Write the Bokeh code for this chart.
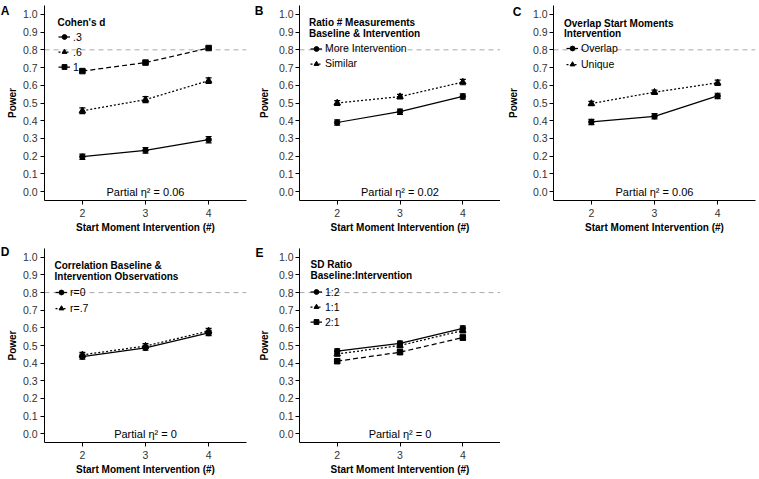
from bokeh.plotting import figure
from bokeh.models import (ColumnDataSource, Whisker, TeeHead, Span, Label, LinearAxis,
                          Legend, LegendItem, FixedTicker, NumeralTickFormatter, Range1d,
                          CustomJSTickFormatter)
from bokeh.layouts import row, column
from bokeh.embed import file_html
from bokeh.resources import INLINE

FONT = "Liberation Sans"

# ---------------- data ----------------
start_moments = [2, 3, 4]
y_ticks = [0.0, 0.1, 0.2, 0.3, 0.4, 0.5, 0.6, 0.7, 0.8, 0.9, 1.0]
power_target = 0.8
x_title = "Start Moment Intervention (#)"
y_title = "Power"

a_title = ["Cohen's d"]
a_labels = [".3", ".6", "1"]
a_power = [[0.197, 0.233, 0.293], [0.456, 0.519, 0.626], [0.680, 0.728, 0.810]]
a_err = [[0.015, 0.016, 0.018], [0.016, 0.017, 0.016], [0.008, 0.006, 0.006]]
a_eta = "Partial \u03b7\u00b2 = 0.06"

b_title = ["Ratio # Measurements", "Baseline & Intervention"]
b_labels = ["More Intervention", "Similar"]
b_power = [[0.390, 0.451, 0.537], [0.500, 0.536, 0.618]]
b_err = [[0.015, 0.015, 0.015], [0.013, 0.013, 0.015]]
b_eta = "Partial \u03b7\u00b2 = 0.02"

c_title = ["Overlap Start Moments", "Intervention"]
c_labels = ["Overlap", "Unique"]
c_power = [[0.393, 0.425, 0.540], [0.497, 0.561, 0.614]]
c_err = [[0.015, 0.015, 0.015], [0.012, 0.012, 0.015]]
c_eta = "Partial \u03b7\u00b2 = 0.06"

d_title = ["Correlation Baseline &", "Intervention Observations"]
d_labels = ["r=0", "r=.7"]
d_power = [[0.437, 0.487, 0.571], [0.447, 0.497, 0.582]]
d_err = [[0.014, 0.014, 0.015], [0.014, 0.014, 0.015]]
d_eta = "Partial \u03b7\u00b2 = 0"

e_title = ["SD Ratio", "Baseline:Intervention"]
e_labels = ["1:2", "1:1", "2:1"]
e_power = [[0.468, 0.512, 0.597], [0.452, 0.500, 0.585], [0.411, 0.462, 0.545]]
e_err = [[0.013, 0.013, 0.014], [0.013, 0.013, 0.014], [0.013, 0.013, 0.014]]
e_eta = "Partial \u03b7\u00b2 = 0"

# ---------------- styles / layout ----------------
SERIES_STYLE = [("solid", "circle", 5.5), ("2 2", "triangle", 6.5), ("5 3", "square", 5.5)]
Y0, Y1 = -0.05, 1.05

COLS = [
    dict(width=250, left=44, right=4, ytick_standoff=3, letter_standoff=10, ylab_standoff=-20),
    dict(width=250, left=49, right=0, ytick_standoff=2, letter_standoff=12, ylab_standoff=-18),
    dict(width=259, left=53, right=4, ytick_standoff=2, letter_standoff=8, ylab_standoff=-9),
]
ROWS = [
    dict(height=240, top=5, bottom=40),
    dict(height=239, top=8, bottom=37),
]


def make_panel(letter, letter_pos, title_lines, labels, powers, errs, eta, ci, ri, lg):
    c = COLS[ci]
    r = ROWS[ri]
    p = figure(width=c["width"], height=r["height"], output_backend="svg",
               toolbar_location=None, tools="",
               x_range=Range1d(1.4, 4.6), y_range=Range1d(Y0, Y1),
               min_border_left=c["left"], min_border_right=c["right"],
               min_border_top=r["top"], min_border_bottom=r["bottom"])
    p.outline_line_color = None
    p.background_fill_color = "white"
    p.border_fill_color = "white"
    p.xgrid.visible = False
    p.ygrid.visible = False

    for ax in (p.xaxis[0], p.yaxis[0]):
        ax.axis_line_color = "black"
        ax.axis_line_width = 1
        ax.major_tick_line_color = "black"
        ax.minor_tick_line_color = None
        ax.major_tick_in = 0
        ax.major_tick_out = 4
        ax.major_label_text_font = FONT
        ax.major_label_text_font_size = "10.5px"
        ax.major_label_text_color = "#333333"
        ax.axis_label_text_font = FONT
        ax.axis_label_text_font_size = "10px"
        ax.axis_label_text_font_style = "bold"
        ax.axis_label_text_color = "black"

    xa = p.xaxis[0]
    xa.ticker = FixedTicker(ticks=start_moments)
    xa.axis_label = x_title
    xa.major_label_standoff = 4
    xa.axis_label_standoff = 2

    ya = p.yaxis[0]
    ya.ticker = FixedTicker(ticks=y_ticks)
    ya.formatter = NumeralTickFormatter(format="0.0")
    ya.axis_label = None
    ya.major_label_standoff = c["ytick_standoff"]

    # outer left axis: carries the panel letter (as its single tick label) and the "Power" title
    la = LinearAxis(ticker=FixedTicker(ticks=[letter_pos], minor_ticks=[]),
                    formatter=CustomJSTickFormatter(args=dict(t=letter), code="return t"),
                    axis_line_color=None, major_tick_line_color=None, minor_tick_line_color=None,
                    major_tick_in=0, major_tick_out=0,
                    major_label_standoff=c["letter_standoff"],
                    major_label_text_font=FONT, major_label_text_font_size="12px",
                    major_label_text_font_style="bold", major_label_text_color="black",
                    axis_label=y_title, axis_label_standoff=c["ylab_standoff"],
                    axis_label_text_font=FONT, axis_label_text_font_size="10px",
                    axis_label_text_font_style="bold", axis_label_text_color="black")
    p.add_layout(la, "left")

    p.add_layout(Span(location=power_target, dimension="width", line_color="#AAAAAA",
                      line_dash="5 4", line_width=1, level="underlay"))

    items = []
    for k, (lab, vals, err) in enumerate(zip(labels, powers, errs)):
        dash, marker, size = SERIES_STYLE[k]
        src = ColumnDataSource(dict(x=start_moments, y=vals,
                                    lo=[v - e for v, e in zip(vals, err)],
                                    hi=[v + e for v, e in zip(vals, err)]))
        ln = p.line("x", "y", source=src, line_color="black", line_width=1.25, line_dash=dash)
        sc = p.scatter("x", "y", source=src, marker=marker, size=size,
                       fill_color="black", line_color="black")
        p.add_layout(Whisker(source=src, base="x", lower="lo", upper="hi",
                             line_color="black", line_width=1.2,
                             upper_head=TeeHead(size=6, line_color="black", line_width=1.2),
                             lower_head=TeeHead(size=6, line_color="black", line_width=1.2)))
        items.append(LegendItem(label=lab, renderers=[ln, sc]))

    frame_h = r["height"] - r["top"] - r["bottom"]
    ppu = frame_h / (Y1 - Y0)
    h1 = (1.0 - Y0) * ppu
    ih = lg["item_h"]
    legend_top = h1 - (lg["item_dy0"] - ih / 2)
    legend_bottom = legend_top - len(items) * ih
    legend = Legend(items=items, location=(lg["legend_x"], legend_bottom),
                    padding=0, spacing=0, margin=0,
                    glyph_width=12, glyph_height=ih, label_height=ih, label_standoff=3,
                    label_text_font=FONT, label_text_font_size="10.5px",
                    label_text_color="black",
                    border_line_color=None, background_fill_alpha=0)
    p.add_layout(legend)

    for t, dy in zip(title_lines, lg["title_dy"]):
        p.add_layout(Label(x=lg["title_x"], y=1.0, x_units="screen", y_units="data",
                           y_offset=-dy, text=t, text_font=FONT, text_font_size="10px",
                           text_font_style="bold", text_color="black",
                           text_align="left", text_baseline="middle"))

    p.add_layout(Label(x=3, y=0.0, text=eta, text_font=FONT, text_font_size="11px",
                       text_color="black", text_align="center", text_baseline="middle"))
    return p


pA = make_panel("A", 1.021, a_title, a_labels, a_power, a_err, a_eta, 0, 0,
                dict(title_x=13, title_dy=[7.7], item_dy0=22.7, legend_x=14, item_h=15))
pB = make_panel("B", 1.021, b_title, b_labels, b_power, b_err, b_eta, 1, 0,
                dict(title_x=9.5, title_dy=[8.3, 19.3], item_dy0=34.3, legend_x=11, item_h=15))
pC = make_panel("C", 1.014, c_title, c_labels, c_power, c_err, c_eta, 2, 0,
                dict(title_x=10.5, title_dy=[8.7, 19.3], item_dy0=34.3, legend_x=13, item_h=16))
pD = make_panel("D", 1.031, d_title, d_labels, d_power, d_err, d_eta, 0, 1,
                dict(title_x=10, title_dy=[8.3, 19.3], item_dy0=35.6, legend_x=11, item_h=16))
pE = make_panel("E", 1.022, e_title, e_labels, e_power, e_err, e_eta, 1, 1,
                dict(title_x=11, title_dy=[7.3, 18.3], item_dy0=35, legend_x=11, item_h=15))

layout = column(row(pA, pB, pC), row(pD, pE))

open("out.html", "w").write(file_html(layout, INLINE))
